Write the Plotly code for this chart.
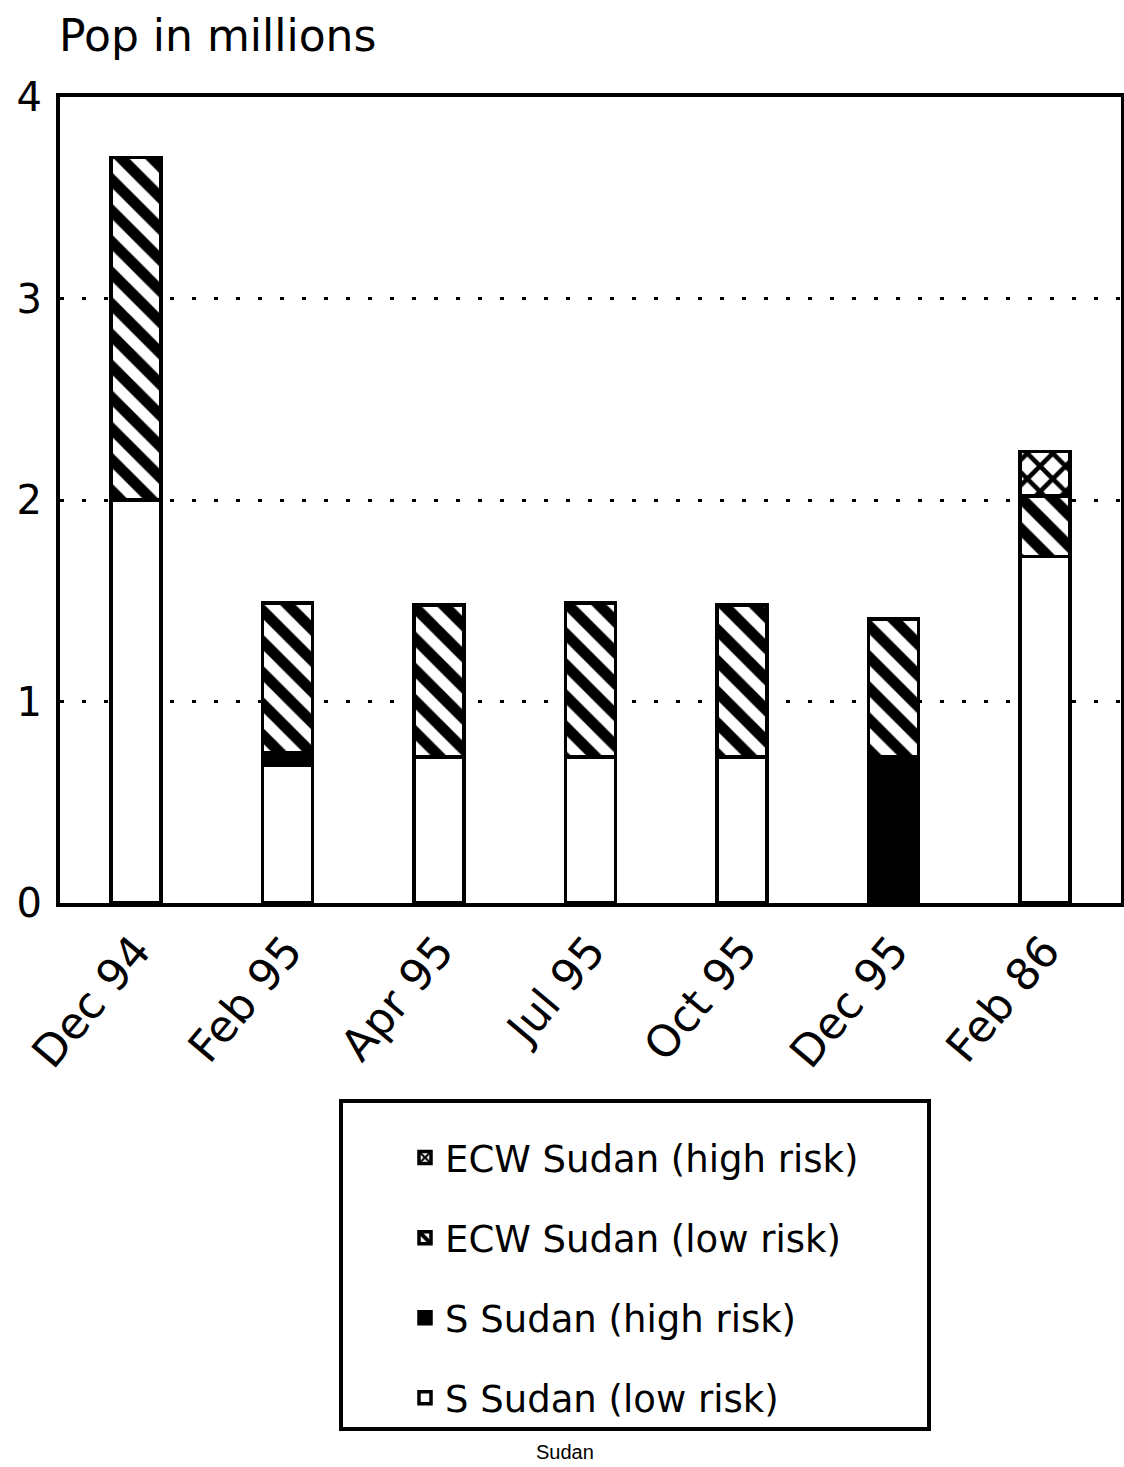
import plotly.graph_objects as go

categories = ["Dec 94", "Feb 95", "Apr 95", "Jul 95", "Oct 95", "Dec 95", "Feb 86"]
s_low = [2.0, 0.685, 0.725, 0.725, 0.725, None, 1.72]
s_high = [None, 0.06, None, None, None, 0.725, None]
ecw_low = [1.70, 0.745, 0.755, 0.765, 0.755, 0.685, 0.30]
ecw_high = [None, None, None, None, None, None, 0.22]
y_ticks = [0, 1, 2, 3, 4]

FONT = "DejaVu Sans, Verdana, sans-serif"
line = dict(color="black", width=3.5)

# plot-area geometry (pixels) used to place the legend frame in paper coords
L, R, T, B, W, H = 60, 3, 97, 564, 1124, 1467
PW, PH = W - L - R, H - T - B
def px(x): return (x - L) / PW
def py(y): return (H - B - y) / PH

fig = go.Figure()
fig.add_trace(go.Bar(x=categories, y=s_low, name="S Sudan (low risk)", legendgroup="a",
                     legendrank=4, marker=dict(color="white", line=line)))
fig.add_trace(go.Bar(x=categories, y=s_high, name="S Sudan (high risk)", legendgroup="b",
                     legendrank=3, marker=dict(color="black", line=line)))
fig.add_trace(go.Bar(x=categories, y=ecw_low, name="ECW Sudan (low risk)", legendgroup="c",
                     legendrank=2,
                     marker=dict(color="white", line=line,
                                 pattern=dict(shape="\\", fgcolor="black", bgcolor="white",
                                              size=22, solidity=0.5, fillmode="replace"))))
fig.add_trace(go.Bar(x=categories, y=ecw_high, name="ECW Sudan (high risk)", legendgroup="d",
                     legendrank=1,
                     marker=dict(color="white", line=line,
                                 pattern=dict(shape="x", fgcolor="black", bgcolor="white",
                                              size=18, solidity=0.45, fillmode="replace"))))

fig.update_layout(
    width=W, height=H,
    barmode="stack", bargap=0.67,
    plot_bgcolor="white", paper_bgcolor="white",
    margin=dict(l=L, r=R, t=T, b=B, autoexpand=False),
    font=dict(family=FONT, color="black"),
    showlegend=True,
    legend=dict(
        x=px(405), y=py(1101), xanchor="left", yanchor="top",
        borderwidth=0, bgcolor="rgba(0,0,0,0)",
        font=dict(size=37, family=FONT, color="black"),
        title=dict(text=" ", font=dict(size=20)),
        traceorder="grouped", tracegroupgap=29,
        itemwidth=30,
    ),
    shapes=[
        dict(type="rect", xref="paper", yref="paper",
             x0=px(341), x1=px(929), y0=py(1101), y1=py(1429),
             line=dict(color="black", width=4), fillcolor="rgba(0,0,0,0)"),
    ],
    xaxis=dict(
        type="category", range=[-0.5, 6.5], automargin=False,
        showline=True, linecolor="black", linewidth=4, mirror=True,
        ticks="", tickangle=-50,
        tickfont=dict(size=44, family=FONT, color="black"),
    ),
    yaxis=dict(
        range=[0, 4], tickvals=y_ticks, ticktext=[str(v) for v in y_ticks],
        automargin=False, ticklabelstandoff=6,
        showline=True, linecolor="black", linewidth=4, mirror=True,
        showgrid=True, gridcolor="black", gridwidth=3, griddash="4px,18px",
        ticks="", zeroline=False,
        tickfont=dict(size=40, family=FONT, color="black"),
    ),
    annotations=[
        dict(text="Pop in millions", xref="paper", yref="paper", x=px(57), y=py(36),
             xanchor="left", yanchor="middle", showarrow=False,
             font=dict(size=44, family=FONT, color="black")),
        dict(text="Sudan", xref="paper", yref="paper", x=px(565), y=py(1452),
             xanchor="center", yanchor="middle", showarrow=False,
             font=dict(size=20, family="Liberation Sans, Arial, sans-serif", color="black")),
    ],
)

fig.write_html("out.html", config={"displayModeBar": False},
               post_script="document.body.style.margin='0';document.body.style.overflow='hidden';")
